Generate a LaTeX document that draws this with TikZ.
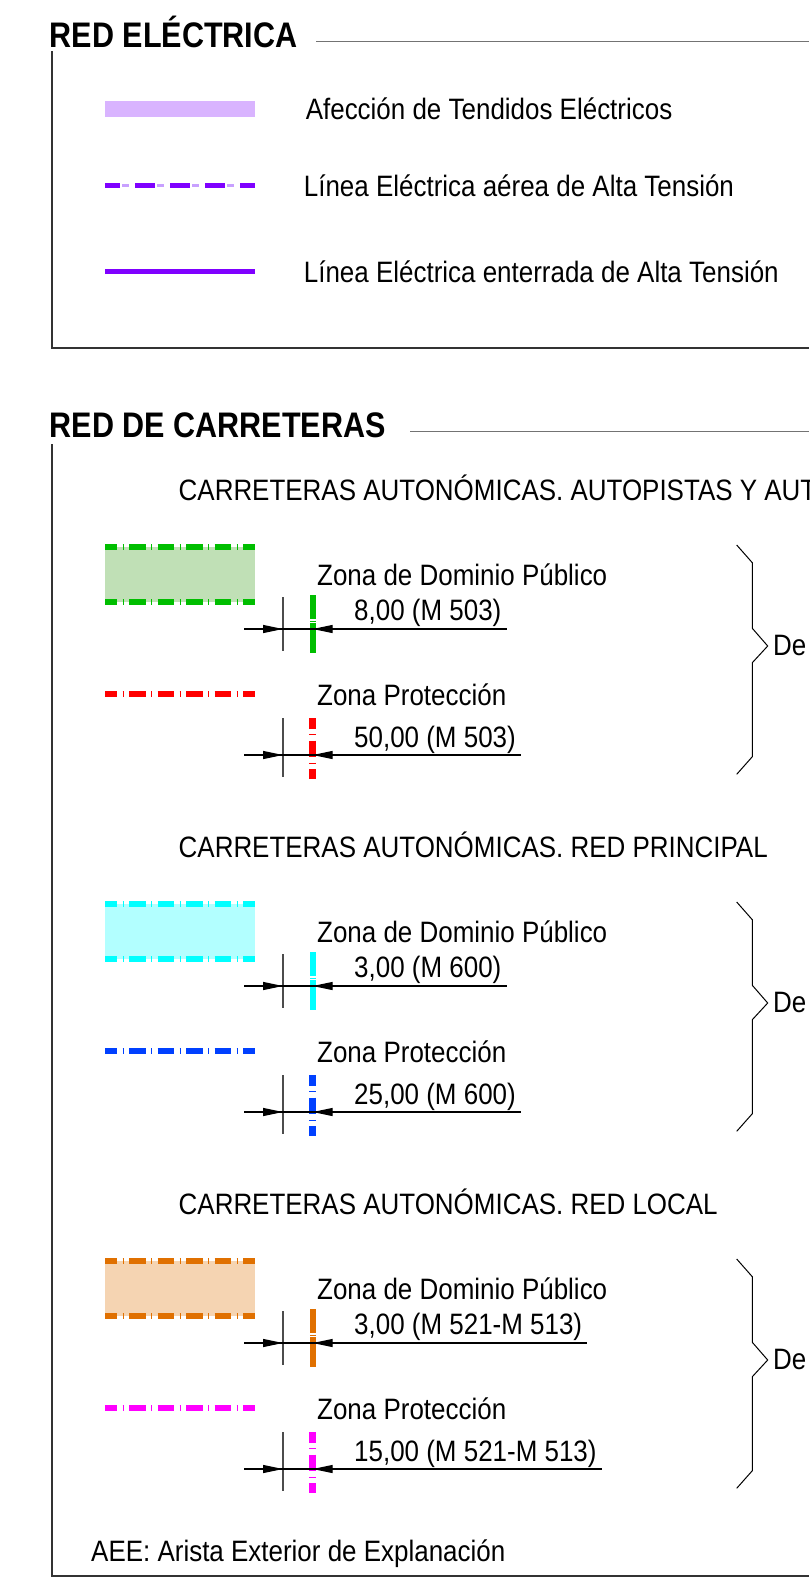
\documentclass[tikz,border=0pt]{standalone}
\usepackage{fontspec}
\setmainfont{Liberation Sans}
\newfontfamily\leyendafont{Liberation Sans}[FakeStretch=0.88]
\newfontfamily\cabecerafont{Liberation Sans}[FakeStretch=0.86]
\usetikzlibrary{arrows.meta}

\definecolor{violeta}{RGB}{127,0,255}
\definecolor{violetaclaro}{RGB}{200,160,255}
\definecolor{lila}{RGB}{217,180,255}
\definecolor{verde}{RGB}{0,190,0}
\definecolor{verdeclaro}{RGB}{192,224,182}
\definecolor{rojo}{RGB}{255,0,0}
\definecolor{cian}{RGB}{0,255,255}
\definecolor{cianclaro}{RGB}{178,255,255}
\definecolor{azul}{RGB}{0,64,255}
\definecolor{naranja}{RGB}{224,112,0}
\definecolor{naranjaclaro}{RGB}{245,212,178}
\definecolor{fucsia}{RGB}{255,0,255}

\tikzset{
    texto/.style={anchor=base west, inner sep=0pt, font=\leyendafont\fontsize{29.5}{35}\selectfont},
    cabecera/.style={anchor=base west, inner sep=0pt, font=\cabecerafont\fontsize{35.5}{40}\selectfont\bfseries},
    marco/.style={draw=black!80, line width=1.2pt},
    linea/.style={draw=black!55, line width=1.5pt},
    cota/.style={draw=black, line width=1.2pt},
    flecha/.style={-{Triangle[length=20pt,width=8pt]}},
    ext/.style={draw=black!70, line width=1.5pt},
    llave/.style={draw=black, line width=1pt},
    rayapunto/.style={line width=6pt, dash pattern=on 16.7pt off 5.4pt on 1pt off 5.4pt, dash phase=4.5pt},
    rayavert/.style={line width=7pt, dash pattern=on 16.7pt off 5.4pt on 1pt off 5.4pt, dash phase=6.2pt},
    rayalarga/.style={line width=6pt, dash pattern=on 24pt off 1.5pt on 1pt off 1.5pt on 40pt off 10pt}
}

% 一组道路图例: #1 标注线y, #2 标题, #3 颜色, #4 填充, #5 数值, #6 保护区颜色, #7 保护区数值
\newcommand{\grupo}[7]{%
    \node[texto] (tit#1) at (178.5,#1-129) {#2};
    % 公共区
    \fill[#4] (105,#1-82.3) rectangle (255,#1-27.3);
    \draw[rayapunto,#3] (105,#1-82.3) -- (255,#1-82.3);
    \draw[rayapunto,#3] (105,#1-27.3) -- (255,#1-27.3);
    \node[texto] (zd#1) at (317,#1-44) {Zona de Dominio Público};
    \node[texto] (vd#1) at (354,#1-9) {#5};
    \draw[rayalarga,#3] (312.7,#1-34) -- (312.7,#1+24);
    \draw[ext] (283,#1-32) -- (283,#1+22);
    \coordinate (ad#1) at (244,#1);
    \draw[cota] (ad#1) -- (vd#1.east |- ad#1) -- ++(5,0);
    \draw[cota,flecha] (ad#1) -- (283,#1);
    \draw[cota,flecha] (vd#1.east |- ad#1) -- (312.7,#1);
    % 保护区
    \draw[rayapunto,#6] (105,#1+126-60.6) -- (255,#1+126-60.6);
    \node[texto] (zp#1) at (317,#1+126-49.6) {Zona Protección};
    \node[texto] (vp#1) at (354,#1+126-8) {#7};
    \draw[rayavert,#6] (312.7,#1+126-36.6) -- (312.7,#1+126+24.4);
    \draw[ext] (283,#1+126-36.6) -- (283,#1+126+22);
    \coordinate (ap#1) at (244,#1+126);
    \draw[cota] (ap#1) -- (vp#1.east |- ap#1) -- ++(5,0);
    \draw[cota,flecha] (ap#1) -- (283,#1+126);
    \draw[cota,flecha] (vp#1.east |- ap#1) -- (312.7,#1+126);
    % 大括号
    \draw[llave] (736.7,#1-84) -- (752.3,#1-66.3) -- (752.3,#1-0.7) -- (767.7,#1+17)
        -- (752.3,#1+33.7) -- (752.3,#1+127.7) -- (736.7,#1+145.3);
    \node[texto] (de#1) at (773,#1+26) {De};
}

\begin{document}
\begin{tikzpicture}[x=1pt, y=-1pt]
        \useasboundingbox (0,0) rectangle (809,1591);
        \fill[white] (0,0) rectangle (809,1591);
        \clip (0,0) rectangle (809,1591);

        % 电网
        \node[cabecera] (h1) at (49.7,47.3) {RED ELÉCTRICA};
        \draw[linea] (316,41.7) -- (809,41.7);
        \draw[marco] (52,51) -- (52,348) -- (809,348);

        \fill[lila] (105,100.7) rectangle (255,116.7);
        \node[texto] (afe) at (305.6,119.7) {Afección de Tendidos Eléctricos};
        \draw[violeta, line width=5pt, dash pattern=on 20pt off 15pt, dash phase=5pt] (105,185.7) -- (255,185.7);
        \draw[violetaclaro, line width=3pt, dash pattern=on 7pt off 28pt, dash phase=18pt] (105,185.7) -- (255,185.7);
        \node[texto] (aer) at (303.7,196.7) {Línea Eléctrica aérea de Alta Tensión};
        \draw[violeta, line width=5pt] (105,271) -- (255,271);
        \node[texto] (ent) at (303.7,282) {Línea Eléctrica enterrada de Alta Tensión};

        % 道路网
        \node[cabecera] (h2) at (49.7,437) {RED DE CARRETERAS};
        \draw[linea] (410,431.7) -- (809,431.7);
        \draw[marco] (52,444) -- (52,1576) -- (809,1576);

        \grupo{629}{CARRETERAS AUTONÓMICAS. AUTOPISTAS Y AUT}{verde}{verdeclaro}{8,00 (M 503)}{rojo}{50,00 (M 503)}
        \grupo{986}{CARRETERAS AUTONÓMICAS. RED PRINCIPAL}{cian}{cianclaro}{3,00 (M 600)}{azul}{25,00 (M 600)}
        \grupo{1343}{CARRETERAS AUTONÓMICAS. RED LOCAL}{naranja}{naranjaclaro}{3,00 (M 521-M 513)}{fucsia}{15,00 (M 521-M 513)}

        % 注释
        \node[texto] (aee) at (91,1561) {AEE: Arista Exterior de Explanación};
    \end{tikzpicture}
\end{document}
